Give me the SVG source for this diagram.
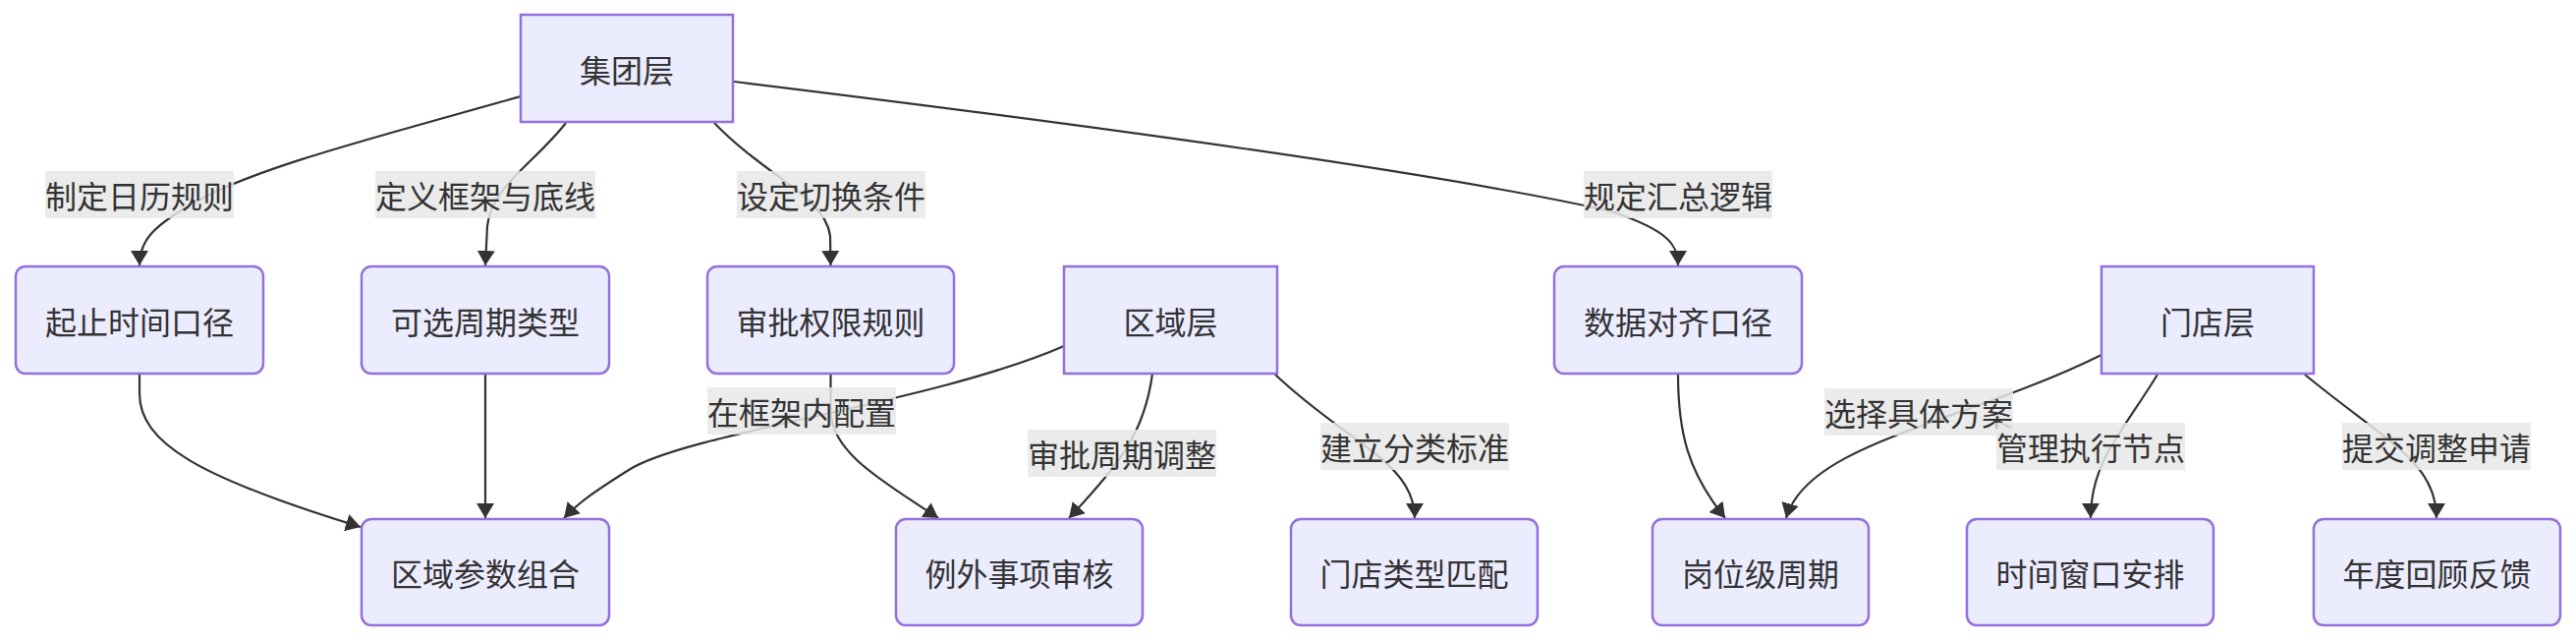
<svg xmlns="http://www.w3.org/2000/svg" width="2622" height="652" viewBox="0 0 2622 652">
<style>
.n rect{fill:#ECECFF;stroke:#9370DB;stroke-width:2.5}
text{font-family:"Noto Sans CJK SC","Liberation Sans",sans-serif;font-size:32px;fill:#333;text-anchor:middle;dominant-baseline:central}
.e path{fill:none;stroke:#333;stroke-width:2.2}
.l rect{fill:#e8e8e8;fill-opacity:0.85}
</style>
<defs>
<marker id="arr" viewBox="0 0 15 18" refX="15" refY="9" markerWidth="15" markerHeight="18" markerUnits="userSpaceOnUse" orient="auto">
<path d="M0,0 L15,9 L0,18 z" fill="#333"/>
</marker>
</defs>
<g id="edges" class="e">
<path marker-end="url(#arr)" d="M530,98 C400,135 260,170 200,205 C155,230 142,245 142,270"/>
<path marker-end="url(#arr)" d="M576,125 C545,165 500,190 496,230 L494,270"/>
<path marker-end="url(#arr)" d="M727,125 C780,180 840,200 845,240 L845.5,270"/>
<path marker-end="url(#arr)" d="M747,83 C1050,120 1450,172 1640,215 C1700,235 1708,250 1708,270"/>
<path marker-end="url(#arr)" d="M142,380 L142,400 C142,450 200,485 367,536"/>
<path marker-end="url(#arr)" d="M494,380 L494,527"/>
<path marker-end="url(#arr)" d="M1083,352 C950,410 700,440 640,478 C605,500 588,512 574,527"/>
<path marker-end="url(#arr)" d="M845.5,380 L845.5,420 C848,462 900,490 955,527"/>
<path marker-end="url(#arr)" d="M1173,380 C1165,440 1140,472 1088,527"/>
<path marker-end="url(#arr)" d="M1297,380 C1370,450 1440,470 1440,527"/>
<path marker-end="url(#arr)" d="M1708,380 C1708,440 1718,480 1756,527"/>
<path marker-end="url(#arr)" d="M2139,361 C2000,430 1840,450 1818,527"/>
<path marker-end="url(#arr)" d="M2196,381 C2160,440 2128,470 2128,527"/>
<path marker-end="url(#arr)" d="M2346,381 C2430,450 2480,470 2480,527"/>
</g>
<g id="labels" class="l">
<g id="l1"><rect x="46" y="174" width="192" height="48"/><text x="142" y="198">制定日历规则</text></g>
<g id="l2"><rect x="382" y="174" width="224" height="48"/><text x="494" y="198">定义框架与底线</text></g>
<g id="l3"><rect x="750" y="174" width="192" height="48"/><text x="846" y="198">设定切换条件</text></g>
<g id="l4"><rect x="1612" y="174" width="192" height="48"/><text x="1708" y="198">规定汇总逻辑</text></g>
<g id="l5"><rect x="720" y="394" width="192" height="48"/><text x="816" y="418">在框架内配置</text></g>
<g id="l6"><rect x="1046" y="437" width="192" height="48"/><text x="1142" y="461">审批周期调整</text></g>
<g id="l7"><rect x="1344" y="430" width="192" height="48"/><text x="1440" y="454">建立分类标准</text></g>
<g id="l8"><rect x="1857" y="395" width="192" height="48"/><text x="1953" y="419">选择具体方案</text></g>
<g id="l9"><rect x="2032" y="430" width="192" height="48"/><text x="2128" y="454">管理执行节点</text></g>
<g id="l10"><rect x="2384" y="430" width="192" height="48"/><text x="2480" y="454">提交调整申请</text></g>
</g>
<g id="n-group" class="n"><rect x="530" y="15" width="216" height="109"/><text x="638" y="69.5">集团层</text></g>
<g id="n-start" class="n"><rect x="16" y="271" width="252" height="109" rx="10"/><text x="142" y="325.5">起止时间口径</text></g>
<g id="n-types" class="n"><rect x="368" y="271" width="252" height="109" rx="10"/><text x="494" y="325.5">可选周期类型</text></g>
<g id="n-approve" class="n"><rect x="720" y="271" width="251" height="109" rx="10"/><text x="845.5" y="325.5">审批权限规则</text></g>
<g id="n-region" class="n"><rect x="1083" y="271" width="217" height="109"/><text x="1191.5" y="325.5">区域层</text></g>
<g id="n-data" class="n"><rect x="1582" y="271" width="252" height="109" rx="10"/><text x="1708" y="325.5">数据对齐口径</text></g>
<g id="n-store" class="n"><rect x="2139" y="271" width="216" height="109"/><text x="2247" y="325.5">门店层</text></g>
<g id="n-regparam" class="n"><rect x="368" y="528" width="252" height="108" rx="10"/><text x="494" y="582">区域参数组合</text></g>
<g id="n-except" class="n"><rect x="912" y="528" width="251" height="108" rx="10"/><text x="1037.5" y="582">例外事项审核</text></g>
<g id="n-storetype" class="n"><rect x="1314" y="528" width="251" height="108" rx="10"/><text x="1439.5" y="582">门店类型匹配</text></g>
<g id="n-post" class="n"><rect x="1682" y="528" width="220" height="108" rx="10"/><text x="1792" y="582">岗位级周期</text></g>
<g id="n-window" class="n"><rect x="2002" y="528" width="251" height="108" rx="10"/><text x="2127.5" y="582">时间窗口安排</text></g>
<g id="n-annual" class="n"><rect x="2355" y="528" width="251" height="108" rx="10"/><text x="2480.5" y="582">年度回顾反馈</text></g>
</svg>
